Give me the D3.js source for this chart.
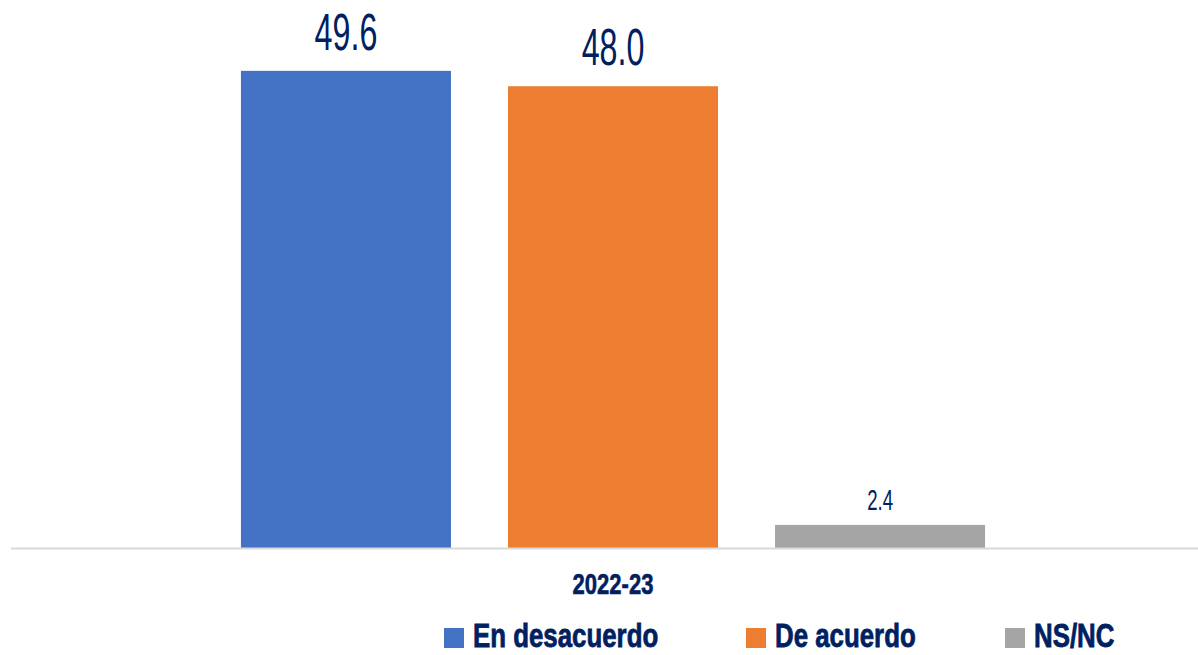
<!DOCTYPE html>
<html>
<head>
<meta charset="utf-8">
<script src="https://cdn.jsdelivr.net/npm/d3@7"></script>
<style>
  html, body { margin: 0; padding: 0; background: #ffffff; }
  svg { display: block; }
</style>
</head>
<body>
<svg id="chart" width="1198" height="655"></svg>
<script>
// ---- data ----
const categories = ["2022-23"];
const seriesNames = ["En desacuerdo", "De acuerdo", "NS/NC"];
const seriesValues = [49.6, 48.0, 2.4];
const seriesColors = ["#4472C4", "#ED7D31", "#A5A5A5"];

// ---- layout ----
const W = 1198, H = 655;
const navy = "#002060";
const svg = d3.select("#chart");

const x0 = d3.scaleBand().domain(categories).range([11, 1215]).paddingInner(0).paddingOuter(0.309);
const x1 = d3.scaleBand().domain(seriesNames).range([0, x0.bandwidth()]).paddingInner(0.2135).paddingOuter(0);
const y = d3.scaleLinear().domain([0, 50]).range([548, 67]);

// bars
const g = svg.append("g");
categories.forEach(cat => {
  const grp = g.append("g").attr("transform", `translate(${x0(cat)},0)`);
  const rows = seriesNames.map((s, i) => ({ s, v: seriesValues[i], c: seriesColors[i] }));
  grp.selectAll("rect").data(rows).join("rect")
    .attr("x", d => x1(d.s))
    .attr("y", d => y(d.v))
    .attr("width", x1.bandwidth())
    .attr("height", d => y(0) - y(d.v))
    .attr("fill", d => d.c);

  grp.selectAll("text.val").data(rows).join("text")
    .attr("class", "val")
    .attr("transform", d => {
      const big = d.v >= 10;
      const off = big ? 21 : 15;
      return `translate(${x1(d.s) + x1.bandwidth() / 2},${y(d.v) - off}) scale(0.62,1)`;
    })
    .attr("text-anchor", "middle")
    .attr("font-family", "Liberation Sans, Arial, sans-serif")
    .attr("font-size", d => d.v >= 10 ? 52 : 30)
    .attr("fill", navy)
    .text(d => d.v.toFixed(1));
});

// x axis
const axis = svg.append("g")
  .attr("transform", `translate(0,${y(0)})`)
  .call(d3.axisBottom(x0).tickSize(0).tickSizeOuter(0));
axis.select(".domain").remove();
axis.append("line")
  .attr("x1", 11).attr("x2", W).attr("y1", 0.5).attr("y2", 0.5)
  .attr("stroke", "#D9D9D9").attr("stroke-width", 2);
axis.selectAll(".tick text")
  .attr("y", 0).attr("dy", 0)
  .attr("transform", "translate(0,46) scale(0.76,1)")
  .attr("font-family", "Liberation Sans, Arial, sans-serif")
  .attr("font-weight", "bold")
  .attr("font-size", 29)
  .attr("fill", navy)
  .attr("stroke", navy)
  .attr("stroke-width", 0.6);

// legend
const legendX = [444, 746, 1005];
const legend = svg.append("g");
seriesNames.forEach((s, i) => {
  legend.append("rect")
    .attr("x", legendX[i]).attr("y", 628)
    .attr("width", 20).attr("height", 20)
    .attr("fill", seriesColors[i]);
  legend.append("text")
    .attr("transform", `translate(${legendX[i] + 29},647) scale(0.76,1)`)
    .attr("font-family", "Liberation Sans, Arial, sans-serif")
    .attr("font-weight", "bold")
    .attr("font-size", 34)
    .attr("fill", navy)
    .attr("stroke", navy)
    .attr("stroke-width", 0.8)
    .text(s);
});
</script>
</body>
</html>
